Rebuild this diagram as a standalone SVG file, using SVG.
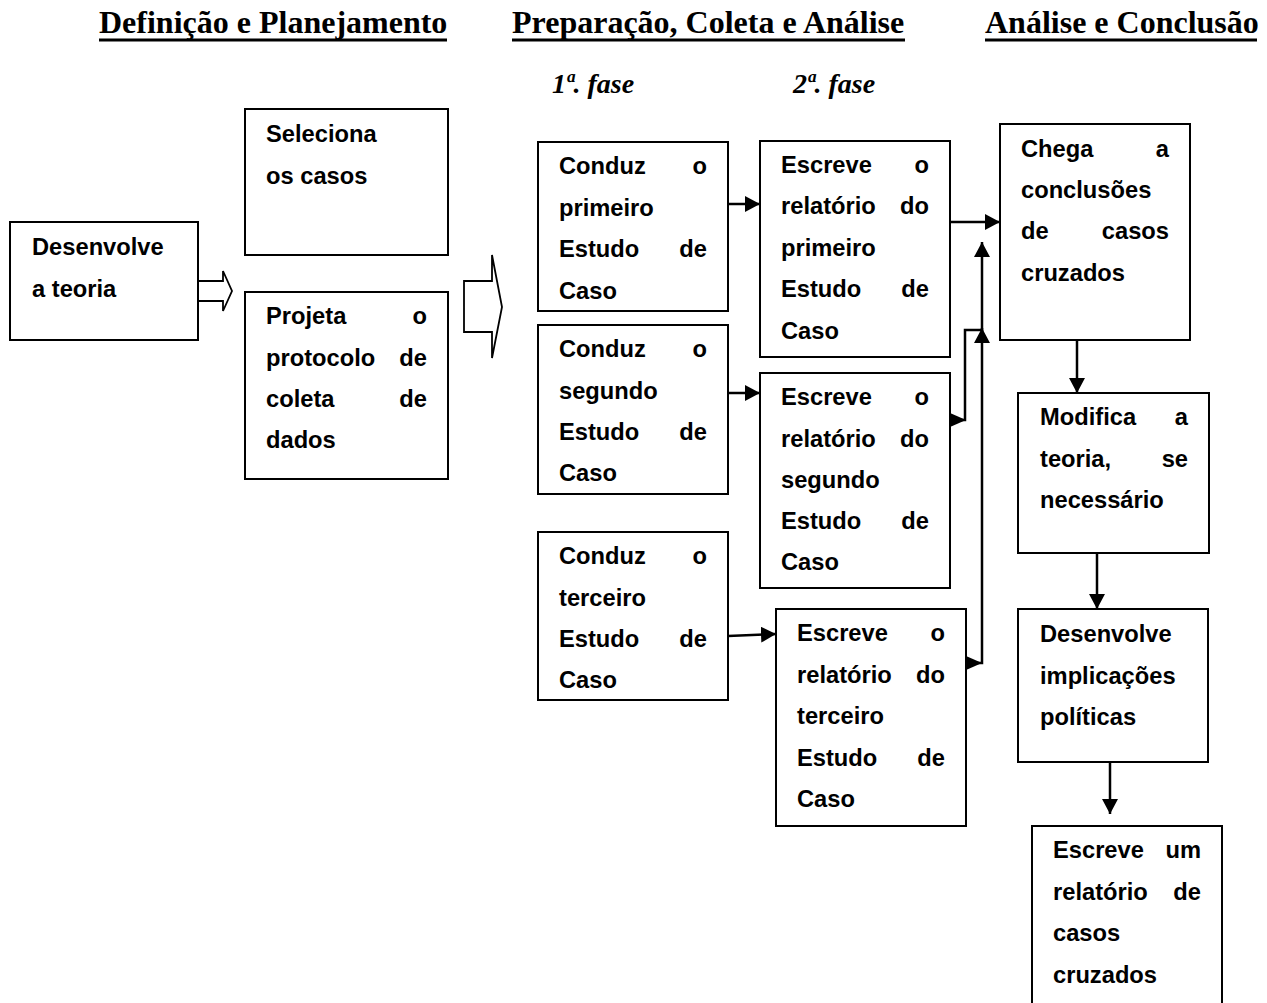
<svg xmlns="http://www.w3.org/2000/svg" width="1267" height="1003" viewBox="0 0 1267 1003">
<style>
.box{fill:#fff;stroke:#000;stroke-width:2}
.t{font-family:"Liberation Sans",Arial,sans-serif;font-weight:bold;font-size:23.7px;fill:#000}
.r{text-anchor:end}
.title{font-family:"Liberation Serif","Times New Roman",serif;font-weight:bold;font-size:32px;fill:#000}
.fase{font-family:"Liberation Serif","Times New Roman",serif;font-weight:bold;font-style:italic;font-size:28px;fill:#000}
.ul{stroke:#000;stroke-width:3}
.c{fill:none;stroke:#000;stroke-width:2.5}
.hollow{fill:#fff;stroke:#000;stroke-width:1.8}
</style>
<defs>
<marker id="ah" viewBox="0 0 10 10" refX="10" refY="5" markerUnits="userSpaceOnUse" markerWidth="15" markerHeight="16" orient="auto" preserveAspectRatio="none"><path d="M0,0 L10,5 L0,10 z" fill="#000"/></marker>
<marker id="tail" viewBox="0 0 10 10" refX="0" refY="5" markerUnits="userSpaceOnUse" markerWidth="16" markerHeight="14" orient="auto" preserveAspectRatio="none"><path d="M0,0 L10,5 L0,10 z" fill="#000"/></marker>
</defs>
<rect width="1267" height="1003" fill="#fff"/>

<g id="titles">
<text class="title" x="99" y="33">Definição e Planejamento</text>
<line class="ul" x1="99" y1="40" x2="447" y2="40"/>
<text class="title" x="512" y="33">Preparação, Coleta e Análise</text>
<line class="ul" x1="512" y1="40" x2="905" y2="40"/>
<text class="title" x="985" y="33">Análise e Conclusão</text>
<line class="ul" x1="985" y1="40" x2="1257" y2="40"/>
<text class="fase" x="552" y="93">1ª. fase</text>
<text class="fase" x="793" y="93">2ª. fase</text>
</g>

<g id="connectors">
<polygon class="hollow" points="198,281 223,281 223,271 232,291 223,311 223,301 198,301"/>
<polygon class="hollow" points="464,281 492,281 492,255 502,307 492,358 492,332 464,332"/>
<path class="c" d="M728,204 H760" marker-end="url(#ah)"/>
<path class="c" d="M728,393 H760" marker-end="url(#ah)"/>
<path class="c" d="M728,636 L776,634" marker-end="url(#ah)"/>
<path class="c" d="M951,222 H1000" marker-end="url(#ah)"/>
<path class="c" d="M950,420 H965 V330 H982 V328" marker-start="url(#tail)" marker-end="url(#ah)"/>
<path class="c" d="M966,663 H982 V242" marker-start="url(#tail)" marker-end="url(#ah)"/>
<path class="c" d="M1077,340 V393" marker-end="url(#ah)"/>
<path class="c" d="M1097,553 V609" marker-end="url(#ah)"/>
<path class="c" d="M1110,762 V814" marker-end="url(#ah)"/>
</g>

<g id="n-desenvolve-teoria">
<rect class="box" x="10" y="222" width="188" height="118"/>
<text class="t"><tspan x="32" y="255">Desenvolve</tspan><tspan x="32" y="297">a teoria</tspan></text>
</g>
<g id="n-seleciona">
<rect class="box" x="245" y="109" width="203" height="146"/>
<text class="t"><tspan x="266" y="142">Seleciona</tspan><tspan x="266" y="184">os casos</tspan></text>
</g>
<g id="n-projeta">
<rect class="box" x="245" y="292" width="203" height="187"/>
<text class="t"><tspan x="266" y="324">Projeta</tspan><tspan class="r" x="427" y="324">o</tspan><tspan x="266" y="366">protocolo</tspan><tspan class="r" x="427" y="366">de</tspan><tspan x="266" y="407">coleta</tspan><tspan class="r" x="427" y="407">de</tspan><tspan x="266" y="448">dados</tspan></text>
</g>
<g id="n-conduz-1">
<rect class="box" x="538" y="142" width="190" height="169"/>
<text class="t"><tspan x="559" y="174">Conduz</tspan><tspan class="r" x="707" y="174">o</tspan><tspan x="559" y="216">primeiro</tspan><tspan x="559" y="257">Estudo</tspan><tspan class="r" x="707" y="257">de</tspan><tspan x="559" y="299">Caso</tspan></text>
</g>
<g id="n-conduz-2">
<rect class="box" x="538" y="325" width="190" height="169"/>
<text class="t"><tspan x="559" y="357">Conduz</tspan><tspan class="r" x="707" y="357">o</tspan><tspan x="559" y="399">segundo</tspan><tspan x="559" y="440">Estudo</tspan><tspan class="r" x="707" y="440">de</tspan><tspan x="559" y="481">Caso</tspan></text>
</g>
<g id="n-conduz-3">
<rect class="box" x="538" y="532" width="190" height="168"/>
<text class="t"><tspan x="559" y="564">Conduz</tspan><tspan class="r" x="707" y="564">o</tspan><tspan x="559" y="606">terceiro</tspan><tspan x="559" y="647">Estudo</tspan><tspan class="r" x="707" y="647">de</tspan><tspan x="559" y="688">Caso</tspan></text>
</g>
<g id="n-escreve-1">
<rect class="box" x="760" y="141" width="190" height="216"/>
<text class="t"><tspan x="781" y="173">Escreve</tspan><tspan class="r" x="929" y="173">o</tspan><tspan x="781" y="214">relatório</tspan><tspan class="r" x="929" y="214">do</tspan><tspan x="781" y="256">primeiro</tspan><tspan x="781" y="297">Estudo</tspan><tspan class="r" x="929" y="297">de</tspan><tspan x="781" y="339">Caso</tspan></text>
</g>
<g id="n-escreve-2">
<rect class="box" x="760" y="373" width="190" height="215"/>
<text class="t"><tspan x="781" y="405">Escreve</tspan><tspan class="r" x="929" y="405">o</tspan><tspan x="781" y="447">relatório</tspan><tspan class="r" x="929" y="447">do</tspan><tspan x="781" y="488">segundo</tspan><tspan x="781" y="529">Estudo</tspan><tspan class="r" x="929" y="529">de</tspan><tspan x="781" y="570">Caso</tspan></text>
</g>
<g id="n-escreve-3">
<rect class="box" x="776" y="609" width="190" height="217"/>
<text class="t"><tspan x="797" y="641">Escreve</tspan><tspan class="r" x="945" y="641">o</tspan><tspan x="797" y="683">relatório</tspan><tspan class="r" x="945" y="683">do</tspan><tspan x="797" y="724">terceiro</tspan><tspan x="797" y="766">Estudo</tspan><tspan class="r" x="945" y="766">de</tspan><tspan x="797" y="807">Caso</tspan></text>
</g>
<g id="n-chega">
<rect class="box" x="1000" y="124" width="190" height="216"/>
<text class="t"><tspan x="1021" y="157">Chega</tspan><tspan class="r" x="1169" y="157">a</tspan><tspan x="1021" y="198">conclusões</tspan><tspan x="1021" y="239">de</tspan><tspan class="r" x="1169" y="239">casos</tspan><tspan x="1021" y="281">cruzados</tspan></text>
</g>
<g id="n-modifica">
<rect class="box" x="1018" y="393" width="191" height="160"/>
<text class="t"><tspan x="1040" y="425">Modifica</tspan><tspan class="r" x="1188" y="425">a</tspan><tspan x="1040" y="467">teoria,</tspan><tspan class="r" x="1188" y="467">se</tspan><tspan x="1040" y="508">necessário</tspan></text>
</g>
<g id="n-implicacoes">
<rect class="box" x="1018" y="609" width="190" height="153"/>
<text class="t"><tspan x="1040" y="642">Desenvolve</tspan><tspan x="1040" y="684">implicações</tspan><tspan x="1040" y="725">políticas</tspan></text>
</g>
<g id="n-relatorio-cruzado">
<rect class="box" x="1032" y="826" width="190" height="200"/>
<text class="t"><tspan x="1053" y="858">Escreve</tspan><tspan class="r" x="1201" y="858">um</tspan><tspan x="1053" y="900">relatório</tspan><tspan class="r" x="1201" y="900">de</tspan><tspan x="1053" y="941">casos</tspan><tspan x="1053" y="983">cruzados</tspan></text>
</g>
</svg>
